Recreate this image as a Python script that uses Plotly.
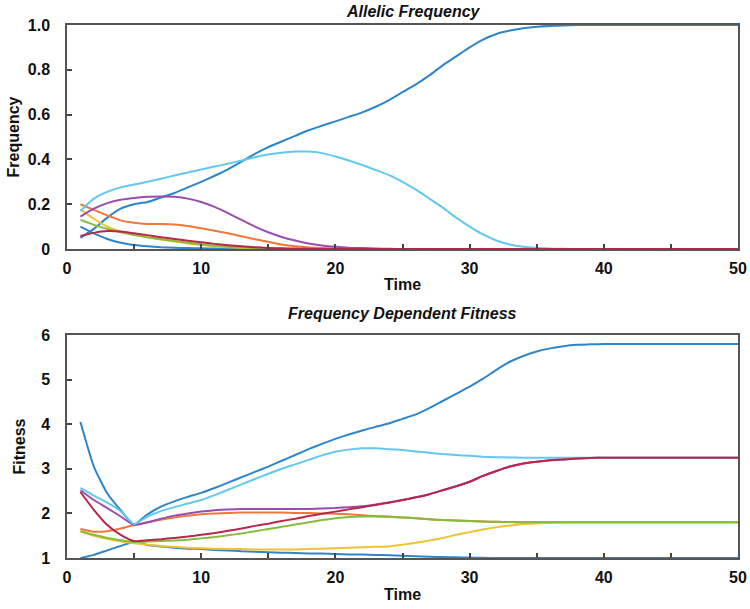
import plotly.graph_objects as go

time = list(range(1, 51))

# ---- Allelic frequency (top) ----
freq_blue2 = [0.10, 0.07, 0.045, 0.028, 0.018, 0.012, 0.008, 0.006, 0.004, 0.003, 0.002, 0.0015, 0.001, 0.0005] + [0.0] * 36
freq_blue = [0.05, 0.09, 0.14, 0.18, 0.20, 0.21, 0.23, 0.25, 0.275, 0.30, 0.327, 0.356, 0.39, 0.425, 0.455, 0.48, 0.505, 0.53, 0.55, 0.57,
             0.59, 0.61, 0.635, 0.665, 0.70, 0.735, 0.775, 0.82, 0.86, 0.90, 0.935, 0.96, 0.975, 0.985, 0.992, 0.996, 0.998] + [1.0] * 13
freq_orange = [0.20, 0.175, 0.15, 0.128, 0.117, 0.112, 0.112, 0.11, 0.103, 0.093, 0.082, 0.07, 0.057, 0.044, 0.032, 0.02, 0.012,
               0.007, 0.004, 0.002, 0.001] + [0.0] * 29
freq_yellow = [0.177, 0.135, 0.1, 0.078, 0.064, 0.052, 0.042, 0.033, 0.025, 0.018, 0.012, 0.008, 0.005, 0.003, 0.002, 0.001] + [0.0] * 34
freq_purple = [0.145, 0.18, 0.205, 0.22, 0.228, 0.233, 0.235, 0.233, 0.225, 0.21, 0.188, 0.16, 0.13, 0.10, 0.075, 0.054, 0.038,
               0.025, 0.016, 0.01, 0.006, 0.004, 0.002, 0.001] + [0.0] * 26
freq_green = [0.13, 0.108, 0.09, 0.075, 0.063, 0.053, 0.044, 0.036, 0.028, 0.021, 0.015, 0.01, 0.007, 0.004, 0.002, 0.001] + [0.0] * 34
freq_lightblue = [0.17, 0.225, 0.255, 0.275, 0.288, 0.30, 0.314, 0.328, 0.342, 0.355, 0.368, 0.381, 0.395, 0.41, 0.422, 0.43, 0.435,
                  0.435, 0.428, 0.413, 0.395, 0.375, 0.353, 0.33, 0.30, 0.265, 0.225, 0.185, 0.14, 0.10, 0.065, 0.038, 0.02, 0.01,
                  0.005, 0.002, 0.001] + [0.0] * 13
freq_red = [0.058, 0.072, 0.08, 0.078, 0.07, 0.062, 0.053, 0.045, 0.037, 0.03, 0.023, 0.017, 0.012, 0.008, 0.005, 0.003, 0.002, 0.001] + [0.0] * 32

# ---- Frequency dependent fitness (bottom) ----
fit_blue2 = [1.0, 1.07, 1.17, 1.27, 1.36, 1.29, 1.26, 1.23, 1.21, 1.2, 1.18, 1.17, 1.15, 1.14, 1.13, 1.12, 1.11, 1.1, 1.1, 1.09,
             1.08, 1.08, 1.07, 1.06, 1.05, 1.04, 1.03, 1.02, 1.015, 1.01, 1.005] + [1.0] * 19
fit_blue = [4.05, 3.05, 2.45, 2.07, 1.75, 1.98, 2.15, 2.27, 2.37, 2.46, 2.57, 2.69, 2.81, 2.93, 3.05, 3.18, 3.31, 3.44, 3.56, 3.67,
            3.77, 3.86, 3.94, 4.02, 4.12, 4.22, 4.36, 4.52, 4.68, 4.84, 5.02, 5.22, 5.4, 5.53, 5.63, 5.7, 5.75, 5.78, 5.79] + [5.8] * 11
fit_orange = [1.65, 1.59, 1.6, 1.66, 1.74, 1.8, 1.86, 1.91, 1.95, 1.98, 2.0, 2.01, 2.02, 2.02, 2.02, 2.02, 2.01, 2.01, 2.0, 1.99,
              1.98, 1.96, 1.94, 1.93, 1.91, 1.89, 1.87, 1.85, 1.84, 1.83, 1.82, 1.81, 1.805] + [1.8] * 17
fit_yellow = [1.6, 1.5, 1.43, 1.37, 1.33, 1.3, 1.27, 1.25, 1.23, 1.22, 1.21, 1.2, 1.2, 1.19, 1.19, 1.19, 1.19, 1.2, 1.21, 1.22,
              1.23, 1.24, 1.25, 1.26, 1.3, 1.34, 1.39, 1.45, 1.52, 1.58, 1.64, 1.69, 1.73, 1.76, 1.78, 1.79] + [1.8] * 14
fit_purple = [2.52, 2.3, 2.12, 1.93, 1.74, 1.8, 1.88, 1.95, 2.0, 2.04, 2.07, 2.09, 2.1, 2.1, 2.1, 2.1, 2.1, 2.1, 2.11, 2.12,
              2.14, 2.16, 2.2, 2.25, 2.3, 2.36, 2.43, 2.52, 2.61, 2.71, 2.84, 2.95, 3.05, 3.12, 3.16, 3.19, 3.21, 3.23, 3.24] + [3.25] * 11
fit_green = [1.6, 1.52, 1.45, 1.4, 1.36, 1.37, 1.38, 1.39, 1.41, 1.44, 1.47, 1.51, 1.55, 1.6, 1.65, 1.7, 1.75, 1.8, 1.85, 1.89,
             1.92, 1.93, 1.93, 1.92, 1.91, 1.89, 1.87, 1.85, 1.84, 1.83, 1.82, 1.81, 1.805] + [1.8] * 17
fit_lightblue = [2.57, 2.4, 2.24, 2.05, 1.76, 1.93, 2.05, 2.14, 2.22, 2.3, 2.41, 2.53, 2.65, 2.77, 2.89, 3.0, 3.1, 3.2, 3.3, 3.38,
                 3.43, 3.46, 3.46, 3.44, 3.42, 3.39, 3.36, 3.33, 3.31, 3.29, 3.27, 3.26, 3.255] + [3.25] * 17
fit_red = [2.48, 2.08, 1.74, 1.52, 1.38, 1.4, 1.42, 1.45, 1.48, 1.52, 1.56, 1.61, 1.66, 1.72, 1.77, 1.83, 1.88, 1.94, 1.99, 2.04,
           2.09, 2.14, 2.19, 2.24, 2.3, 2.36, 2.43, 2.52, 2.61, 2.71, 2.84, 2.95, 3.05, 3.12, 3.16, 3.19, 3.21, 3.23, 3.24] + [3.25] * 11

colors = {
    "blue2": "#2C86C9", "blue": "#2C86C9", "orange": "#F0763A", "yellow": "#F2C233",
    "purple": "#9A4DB0", "green": "#86BC3C", "lightblue": "#62C8F0", "red": "#B8274A",
}
order = ["blue2", "blue", "orange", "yellow", "purple", "green", "lightblue", "red"]
freq = {"blue2": freq_blue2, "blue": freq_blue, "orange": freq_orange, "yellow": freq_yellow,
        "purple": freq_purple, "green": freq_green, "lightblue": freq_lightblue, "red": freq_red}
fit = {"blue2": fit_blue2, "blue": fit_blue, "orange": fit_orange, "yellow": fit_yellow,
       "purple": fit_purple, "green": fit_green, "lightblue": fit_lightblue, "red": fit_red}

fig = go.Figure()
for k in order:
    fig.add_trace(go.Scatter(x=time, y=freq[k], mode="lines", xaxis="x", yaxis="y",
                             line=dict(color=colors[k], width=2, shape="spline", smoothing=0.5),
                             showlegend=False))
for k in order:
    fig.add_trace(go.Scatter(x=time, y=fit[k], mode="lines", xaxis="x2", yaxis="y2",
                             line=dict(color=colors[k], width=2, shape="spline", smoothing=0.5),
                             showlegend=False))

FONT = "Liberation Sans, Arial, sans-serif"
TXT = "#111111"
axis_common = dict(showline=True, linecolor="#555555", linewidth=1.5, mirror=True,
                   ticks="inside", ticklen=5, tickcolor="#444444", tickwidth=1.5,
                   showgrid=False, zeroline=False, automargin=False,
                   tickfont=dict(family=FONT, size=16, color=TXT, weight="bold"))
xcommon = dict(axis_common, range=[0, 50], tickvals=[0, 10, 20, 30, 40, 50],
               ticklabelstandoff=4,
               minor=dict(tickvals=[5, 15, 25, 35, 45], ticks="inside", ticklen=5, tickcolor="#444444", tickwidth=1.5))

fig.update_layout(
    width=750, height=609,
    margin=dict(l=67, r=12, t=25, b=51, autoexpand=False),
    paper_bgcolor="white", plot_bgcolor="white",
    xaxis=dict(xcommon, domain=[0, 1], anchor="y",
               title=dict(text="Time", font=dict(family=FONT, size=16, color=TXT, weight="bold"), standoff=3)),
    yaxis=dict(axis_common, domain=[0.5797, 1], anchor="x", range=[0, 1],
               tickvals=[0, 0.2, 0.4, 0.6, 0.8, 1.0], ticktext=["0", "0.2", "0.4", "0.6", "0.8", "1.0"],
               ticklabelstandoff=12,
               title=dict(text="Frequency", font=dict(family=FONT, size=16, color=TXT, weight="bold"), standoff=4)),
    xaxis2=dict(xcommon, domain=[0, 1], anchor="y2",
                title=dict(text="Time", font=dict(family=FONT, size=16, color=TXT, weight="bold"), standoff=4)),
    yaxis2=dict(axis_common, domain=[0, 0.4184], anchor="x2", range=[1, 6],
                tickvals=[1, 2, 3, 4, 5, 6], ticktext=["1", "2", "3", "4", "5", "6"],
                ticklabelstandoff=12,
                title=dict(text="Fitness", font=dict(family=FONT, size=16, color=TXT, weight="bold"), standoff=12)),
    annotations=[
        dict(text="<i>Allelic Frequency</i>", xref="paper", yref="paper", x=0.516, y=1.0, yshift=3,
             xanchor="center", yanchor="bottom", showarrow=False,
             font=dict(family=FONT, size=16, color=TXT, weight="bold")),
        dict(text="<i>Frequency Dependent Fitness</i>", xref="paper", yref="paper", x=0.5, y=0.4184, yshift=11,
             xanchor="center", yanchor="bottom", showarrow=False,
             font=dict(family=FONT, size=16, color=TXT, weight="bold")),
    ],
)

fig.write_html("out.html", config={"displayModeBar": False},
               post_script="document.body.style.margin='0px';")
